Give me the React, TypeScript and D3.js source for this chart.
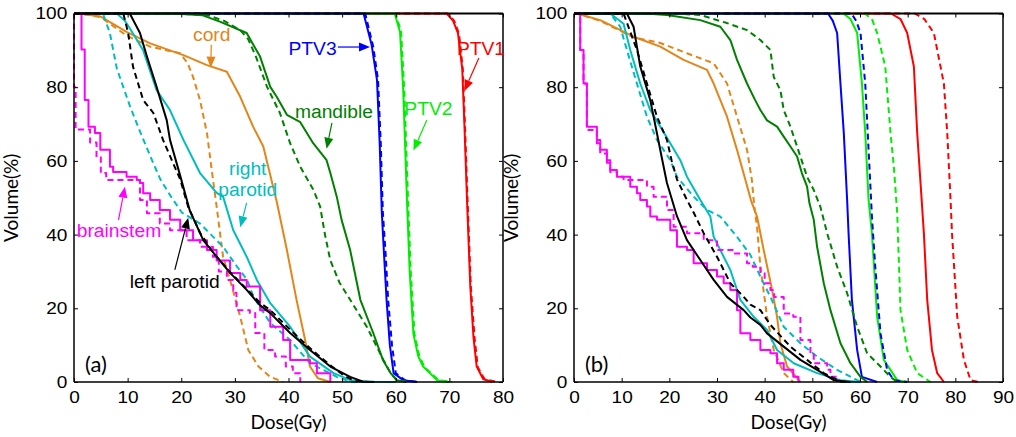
import { useEffect, useRef } from 'react';
import * as d3 from 'd3';

type Pt = [number, number];

const W = 1016;
const H = 437;
const TICK_FONT = '"Liberation Sans", Arial, sans-serif';
const LABEL_FONT = 'Lato, "Open Sans", sans-serif';

const C = {
  ptv1: '#ff0000',
  ptv2: '#00ee00',
  ptv3: '#0000ff',
  mandible: '#008000',
  cord: '#e2861a',
  rparotid: '#00bdbd',
  lparotid: '#000000',
  brainstem: '#ff00ff',
};

// ---------- panel (a) ----------
const aPtv1: Pt[] = [[0,100],[69.5,100],[70.7,98],[71.6,94.7],[72.4,85],[72.8,70],[73.3,49],[73.9,26],[74.5,12],[75.1,4.2],[76.3,0.8],[78,0]];
const aPtv1D: Pt[] = [[0,100],[69.7,100],[70.9,98],[71.8,94.5],[72.5,85],[72.9,70],[73.4,49],[74,26],[74.7,12],[75.3,4],[76.6,0.7],[79,0]];
const aPtv2: Pt[] = [[0,100],[59.8,100],[60.8,95],[61.4,79],[62.1,49],[62.6,30],[63.3,13],[64.2,7],[65.1,4.2],[67.7,0.5],[70,0]];
const aPtv2D: Pt[] = [[0,100],[60,100],[61,95],[61.6,79],[62.3,49],[62.8,30],[63.5,13],[64.4,7],[65.4,4],[68,0.5],[70.5,0]];
const aPtv3: Pt[] = [[0,100],[54,100],[55.5,91.5],[56.5,82],[57,65],[57.4,46],[57.8,35],[58.3,22],[58.9,10],[59.6,2.4],[61.4,0.5],[64,0]];
const aPtv3D: Pt[] = [[0,100],[54.3,100],[55.8,91],[56.7,82],[57.2,65],[57.6,46],[58.1,35],[58.6,22],[59.3,10],[60,2.4],[61.8,0.4],[64.5,0]];
const aMand: Pt[] = [[0,100],[18.5,100],[24,99.5],[27.2,97.8],[32.2,94.7],[34.7,88.3],[36.6,80.1],[37.8,77.4],[39.7,72.5],[42.2,70.5],[44.6,64.8],[47.1,60.2],[47.8,56.7],[49,50.3],[49.9,44],[51.5,35.8],[53.4,22.3],[55.8,13.3],[57.6,6],[59,2.5],[60.2,0.5],[62,0]];
const aMandD: Pt[] = [[0,100],[19,100],[25,99.5],[28,98],[31,95.5],[32.5,93],[34,88],[36,80.1],[38.4,73],[40.3,64.8],[42.2,58.4],[44.7,52],[45.9,47.6],[46.8,40],[47.8,33],[49.5,27],[51.5,22.3],[54.6,15],[57.7,6],[59,2.5],[60.2,0.5],[62.5,0]];
const aCord: Pt[] = [[0,100],[1.1,100],[4.9,99.2],[9.8,95],[14.2,91.9],[20.4,88.7],[24.8,86],[28.5,84.2],[31,77.4],[33.4,69.3],[35.3,63.9],[37.8,49],[39.7,35.8],[41.5,22.3],[43.1,11.4],[44,4.2],[45.5,1],[47.8,0]];
const aCordD: Pt[] = [[0,100],[1,100],[5,99],[9.8,94],[14.2,91],[19.8,89.2],[21.2,86.5],[22.2,82.8],[23.5,76.5],[24.8,67.5],[26,54],[26.6,47.6],[27.8,34],[29.1,27.7],[31,17.7],[32.5,8.7],[34.4,4.2],[36.5,1.5],[39,0]];
const aRPar: Pt[] = [[0,100],[8,100],[9.5,98],[10.4,96],[12.9,90],[15.4,79.2],[17.9,73.8],[20.4,65.7],[23.5,56.7],[26.6,51.3],[27.8,50.3],[29.7,41.2],[32.2,34],[34.1,27.7],[36.6,21.4],[40.3,15],[44,6.9],[48.4,2.4],[51.5,0.5],[56,0.1],[60,0]];
const aRParD: Pt[] = [[0,100],[5,100],[5.5,99.6],[6.7,94.6],[8,85],[9.2,80],[10.4,75],[12.3,68],[14.6,60],[16.1,55],[18,50.5],[20.1,46],[23.5,43],[27.8,36.7],[30.4,31.3],[32.3,27.7],[33.5,23],[36.6,16],[40.3,11.4],[44,5.1],[49,1.4],[51.5,0.1],[54,0]];
const aLPar: Pt[] = [[0,100],[10.4,100],[12.3,94.7],[13.6,88.3],[15.4,80.1],[17.3,71],[17.9,65.7],[19.8,56],[21.6,46.5],[24.1,38.5],[26.6,34],[29.1,29.6],[32.2,25],[34.7,20.8],[36.6,18.7],[40.3,13.3],[44,8.7],[47.8,4.2],[51.5,1.4],[53.9,0.1],[56,0]];
const aLParD: Pt[] = [[0,100],[9.2,100],[10.1,94.7],[11,85.6],[12.9,76.5],[14.8,73],[16.6,65.7],[18,61],[19.8,55],[21.3,47.5],[23.5,40.5],[26,35],[28.8,30.3],[32,25.5],[34.7,21.5],[36.6,19.5],[40.3,14.2],[44,9.2],[47.8,4.5],[50.5,1.6],[52.5,0.2],[55,0]];
const aBrain: Pt[] = [[0,100],[1,100],[1.4,90.2],[2,76.5],[2.7,69.3],[3.9,67.6],[4.9,63],[6.7,58.4],[7.3,57],[9.8,55.7],[11.7,54.8],[12.3,54],[12.9,51.2],[14.2,49.4],[16,46.7],[17.9,44],[19.8,41.2],[22.2,38.5],[24.8,35.8],[26.6,33],[29.1,29.6],[31,27.7],[32.2,25.9],[34.7,19.5],[36.6,15],[39,11.4],[40.3,6],[44,5.1],[45.3,2.4],[47.8,0]];
const aBrainD: Pt[] = [[0,100],[0,80],[0.3,68.5],[3,65],[4.2,61],[5,56.7],[6,54.8],[12.3,49.4],[13.6,45.8],[16,43],[17.9,41.2],[21,38.5],[23.5,36.7],[25.9,34],[27,30],[28.5,27.7],[29.7,24.2],[30.3,19.5],[32.8,18.7],[33.8,13.3],[35.5,8.7],[37.5,6.9],[39.5,4.2],[40.8,2.4],[42.2,0]];

// ---------- panel (b) ----------
const bPtv1: Pt[] = [[0,100],[66.5,100],[68.5,98.5],[69.9,94.7],[71.3,85.6],[72,67.6],[72.7,54],[73.4,40.4],[74.1,22.3],[75.1,8.7],[76.2,2.4],[77.6,0]];
const bPtv1D: Pt[] = [[0,100],[71.5,100],[73.5,98.5],[75.5,94.7],[77.6,81],[78.3,67.6],[79,49.4],[79.3,40.4],[80.4,17.7],[81.8,6],[83.2,0.5],[84.9,0]];
const bPtv2: Pt[] = [[0,100],[56.5,100],[58,98.5],[59.4,94.7],[60.4,81],[61.1,67.6],[61.8,49.4],[62.5,40.4],[63.6,17.7],[65,6],[67.8,0.5],[69.9,0]];
const bPtv2D: Pt[] = [[0,100],[61,100],[62.5,98.5],[63.6,94.7],[65.3,85.6],[66.4,67.6],[67.1,58.4],[67.8,46],[68.5,19.5],[69.9,8.7],[72,2.4],[74.8,0]];
const bPtv3: Pt[] = [[0,100],[53.3,100],[54.3,98],[55.2,94.7],[55.9,81],[56.6,67.6],[57.3,49.4],[57.6,40.4],[58.3,22.3],[59.4,8.7],[60.4,1.4],[63.6,0]];
const bPtv3D: Pt[] = [[0,100],[58.2,100],[59.2,98],[60.1,94.7],[61.1,81],[61.8,63],[62.5,44.9],[63.2,31.3],[64.3,13.2],[65.7,3.2],[67.1,0.5],[69.9,0]];
const bMand: Pt[] = [[0,100],[15,100],[19.5,99.6],[26.5,98.2],[30.7,96.4],[32.8,92.8],[34.2,87.4],[36.3,81],[38,76.5],[39.1,73.8],[40.5,71],[42.6,69.3],[44,66.6],[45.4,63.9],[46.8,61.2],[47.8,56.7],[48.9,53],[49.4,48.5],[50.3,44],[51,36.7],[52.4,26.8],[53.8,19.5],[55.9,10.5],[58,5.1],[60.1,1.4],[61.5,0]];
const bMandD: Pt[] = [[0,100],[20.9,100],[26.5,99.6],[32.1,97.4],[36.3,95.5],[39.1,92.8],[41.2,90.1],[41.9,82.8],[43.3,79.2],[44,73.8],[45.4,69.3],[46.8,63.9],[48.2,58.4],[48.9,55.7],[50.3,52.1],[51.7,47.5],[53.1,40.4],[55.2,31.3],[57.3,24.1],[59.4,15],[61.5,7.8],[63.6,5.1],[66.4,1.4],[67.8,0]];
const bCord: Pt[] = [[0,100],[0.6,100],[5.5,98.2],[12.5,93.7],[18.1,91],[23,87.4],[27.9,84.7],[29.3,81],[32.1,72],[34.2,63],[35.5,57],[37.2,49],[38.4,44.9],[39.8,35.8],[41.4,26],[42.6,17.7],[43.3,10.5],[44.7,4.2],[47.5,0]];
const bCordD: Pt[] = [[0,100],[0.6,100],[5.5,98],[12.5,93.5],[18.1,92],[23.7,89.2],[29.3,86.5],[32.1,81],[34.2,72],[36.3,63],[37.3,55],[37.8,48],[38.4,42],[39.1,31.3],[40.5,17.7],[41.9,8.7],[44,2.4],[46,0]];
const bRPar: Pt[] = [[0,100],[7.6,100],[10.4,97.2],[11.8,90.1],[13.9,81],[16,73.8],[18.1,69.3],[20.2,64.8],[22.3,60.2],[23.7,55.7],[26.5,49.4],[28.6,44.9],[29.3,39.4],[30.7,35.8],[32.8,30.4],[34.9,22.3],[37.7,17.7],[40.5,14.1],[42.6,8.7],[46.1,5.1],[51,2.4],[55.9,0.5],[60.1,0]];
const bRParD: Pt[] = [[0,100],[7.6,100],[9.7,96.4],[11.1,90.1],[13.2,81],[15.3,72],[17.4,65.7],[20.2,60.2],[21.6,55.7],[25.1,50.3],[27.9,46.7],[30.7,44.9],[34.2,39.4],[37,34.5],[39.1,28.6],[41.5,22.3],[44,15],[47.5,10.5],[51,6.9],[55.2,3.3],[59.4,0.5],[60.8,0]];
const bLPar: Pt[] = [[0,100],[11.1,100],[12.5,96.4],[13.9,85.6],[16,76.5],[17.4,67.5],[18.4,61],[19.5,54],[21.6,45],[23.7,38.5],[26.5,33.1],[29.3,27.7],[32.1,23.1],[35.6,19.5],[37,17.5],[39.1,15.5],[40.5,13.2],[44,9.6],[47.5,6],[51,3.3],[54.5,0.5],[58,0]];
const bLParD: Pt[] = [[0,100],[10.4,100],[13.2,90.1],[15.3,81],[17.4,72],[19.5,65.7],[20.5,60],[21.6,55],[23.7,49.4],[25.1,46],[27.2,40.4],[30,34],[32.8,26.8],[35.6,23.1],[37,21],[39.1,19.5],[41.2,15.5],[45.4,9.6],[48.9,6],[52.4,2.4],[55.9,0.1],[58,0]];
const bBrain: Pt[] = [[0,100],[0.6,100],[1.3,90.1],[2,81],[2.7,69.3],[4.8,65.7],[5.5,63],[6.9,60.2],[7.6,57.5],[9,55.7],[11.8,53],[13.2,51.2],[13.9,49.4],[15.3,47.6],[16,44.9],[17.4,44],[20.2,41.2],[21.6,36.7],[23.7,35.8],[25.1,32.2],[27.9,30.4],[30,28.6],[31.4,26.8],[32.8,25],[34.2,19.5],[34.9,13.2],[37,11.4],[39.1,8.7],[41.2,7.8],[42.6,5.1],[44,3.3],[46,1.4],[47.1,0]];
const bBrainD: Pt[] = [[0,100],[0.6,100],[1.3,90.1],[2,81],[2.7,68.4],[4.8,64.8],[5.5,62],[6.9,59.5],[7.6,57],[9,55.7],[10.4,54.8],[15.3,53],[16.7,50.3],[19.5,46.7],[20.9,42.1],[23.7,40.4],[27.2,38.5],[30,35.8],[33.5,34.9],[36.3,32.2],[37.5,31.3],[39.1,29.5],[40,26.8],[41.2,25],[42,23.1],[44,18.6],[46,17.7],[47.5,11.4],[49.6,7.8],[50.3,5.1],[53.1,3.3],[53.8,1.4],[55.2,0]];

const yTicks = [0, 20, 40, 60, 80, 100];
const xTicksA = [0, 10, 20, 30, 40, 50, 60, 70, 80];
const xTicksB = [0, 10, 20, 30, 40, 50, 60, 70, 80, 90];

type Series = { pts: Pt[]; color: string; dashed?: boolean; step?: boolean };

// draw order: targets first, organs at risk on top
const seriesA: Series[] = [
  { pts: aPtv1, color: C.ptv1 },
  { pts: aPtv1D, color: C.ptv1, dashed: true },
  { pts: aPtv2, color: C.ptv2 },
  { pts: aPtv2D, color: C.ptv2, dashed: true },
  { pts: aPtv3, color: C.ptv3 },
  { pts: aPtv3D, color: C.ptv3, dashed: true },
  { pts: aMand, color: C.mandible },
  { pts: aMandD, color: C.mandible, dashed: true },
  { pts: aCord, color: C.cord },
  { pts: aCordD, color: C.cord, dashed: true },
  { pts: aRPar, color: C.rparotid },
  { pts: aRParD, color: C.rparotid, dashed: true },
  { pts: aBrain, color: C.brainstem, step: true },
  { pts: aBrainD, color: C.brainstem, dashed: true, step: true },
  { pts: aLPar, color: C.lparotid },
  { pts: aLParD, color: C.lparotid, dashed: true },
];

const seriesB: Series[] = [
  { pts: bPtv1, color: C.ptv1 },
  { pts: bPtv1D, color: C.ptv1, dashed: true },
  { pts: bPtv2, color: C.ptv2 },
  { pts: bPtv2D, color: C.ptv2, dashed: true },
  { pts: bPtv3, color: C.ptv3 },
  { pts: bPtv3D, color: C.ptv3, dashed: true },
  { pts: bMand, color: C.mandible },
  { pts: bMandD, color: C.mandible, dashed: true },
  { pts: bCord, color: C.cord },
  { pts: bCordD, color: C.cord, dashed: true },
  { pts: bRPar, color: C.rparotid },
  { pts: bRParD, color: C.rparotid, dashed: true },
  { pts: bBrain, color: C.brainstem, step: true },
  { pts: bBrainD, color: C.brainstem, dashed: true, step: true },
  { pts: bLPar, color: C.lparotid },
  { pts: bLParD, color: C.lparotid, dashed: true },
];

// annotations for panel (a), in data units: text anchor point, arrow from -> to
type Note = { lines: string[]; at: Pt; color: string; anchor?: string; from: Pt; to: Pt };
const notesA: Note[] = [
  { lines: ['cord'], at: [22.2, 92.5], color: C.cord, from: [25.6, 91.5], to: [25.5, 85.3] },
  { lines: ['PTV3'], at: [40, 88.7], color: C.ptv3, from: [49.2, 90.9], to: [55.2, 90.9] },
  { lines: ['PTV1'], at: [71.4, 88.7], color: C.ptv1, from: [75.5, 87.9], to: [72.8, 79] },
  { lines: ['mandible'], at: [41.2, 71.6], color: C.mandible, from: [48.1, 70.3], to: [47.1, 63.3] },
  { lines: ['PTV2'], at: [61.6, 72.5], color: C.ptv2, from: [65.8, 71.1], to: [63.3, 62.8] },
  { lines: ['right', 'parotid'], at: [32.4, 56.2], color: C.rparotid, anchor: 'middle', from: [32.2, 48.6], to: [31, 42] },
  { lines: ['brainstem'], at: [0.5, 39.4], color: C.brainstem, from: [8.3, 44], to: [9.5, 53] },
  { lines: ['left parotid'], at: [10.4, 25.5], color: '#000', from: [18.8, 30.4], to: [21.3, 44.6] },
];

const yScale = d3.scaleLinear().domain([0, 100]).range([382, 13.5]);
const xScaleA = d3.scaleLinear().domain([0, 80]).range([74, 503]);
const xScaleB = d3.scaleLinear().domain([0, 90]).range([574, 1003]);

function Arrow({ x1, y1, x2, y2, color }: { x1: number; y1: number; x2: number; y2: number; color: string }) {
  const ang = Math.atan2(y2 - y1, x2 - x1);
  const len = 11;
  const hw = 4.5;
  const bx = x2 - len * Math.cos(ang);
  const by = y2 - len * Math.sin(ang);
  const px = -Math.sin(ang) * hw;
  const py = Math.cos(ang) * hw;
  return (
    <g>
      <line x1={x1} y1={y1} x2={bx} y2={by} stroke={color} strokeWidth={1.2} />
      <polygon points={`${x2},${y2} ${bx + px},${by + py} ${bx - px},${by - py}`} fill={color} />
    </g>
  );
}

function Panel({ x, series, xTicks, tag, notes }: { x: d3.ScaleLinear<number, number>; series: Series[]; xTicks: number[]; tag: string; notes?: Note[] }) {
  const bottomRef = useRef<SVGGElement>(null);
  const leftRef = useRef<SVGGElement>(null);
  const topRef = useRef<SVGGElement>(null);
  const rightRef = useRef<SVGGElement>(null);
  const [x0, x1] = x.range();
  const [y0, y1] = yScale.range();

  useEffect(() => {
    const tidy = (g: d3.Selection<SVGGElement, unknown, null, undefined>) => {
      g.select('.domain').remove();
      g.selectAll('line').attr('stroke', '#000').attr('stroke-width', 1);
      g.selectAll('text')
        .attr('font-family', TICK_FONT)
        .attr('font-size', 17)
        .attr('fill', '#000')
        .attr('transform', 'scale(1.12,1)');
    };
    d3.select(bottomRef.current!)
      .call(d3.axisBottom(x).tickValues(xTicks).tickSizeInner(-4).tickSizeOuter(0).tickPadding(9).tickFormat(d3.format('d')))
      .call(tidy);
    d3.select(leftRef.current!)
      .call(d3.axisLeft(yScale).tickValues(yTicks).tickSizeInner(-4).tickSizeOuter(0).tickPadding(6).tickFormat(d3.format('d')))
      .call(tidy);
    d3.select(topRef.current!)
      .call(d3.axisTop(x).tickValues(xTicks).tickSizeInner(-4).tickSizeOuter(0).tickFormat(() => ''))
      .call(tidy);
    d3.select(rightRef.current!)
      .call(d3.axisRight(yScale).tickValues(yTicks).tickSizeInner(-4).tickSizeOuter(0).tickFormat(() => ''))
      .call(tidy);
  }, [x, xTicks]);

  const line = d3.line<Pt>().x((d) => x(d[0])).y((d) => yScale(d[1]));
  const stepLine = d3.line<Pt>().x((d) => x(d[0])).y((d) => yScale(d[1])).curve(d3.curveStepAfter);

  return (
    <g>
      <rect x={x0} y={y1} width={x1 - x0} height={y0 - y1} fill="#fff" />
      {series.map((s, i) => (
        <path
          key={i}
          d={(s.step ? stepLine : line)(s.pts) ?? ''}
          fill="none"
          stroke={s.color}
          strokeWidth={2}
          strokeDasharray={s.dashed ? '6,4' : undefined}
          strokeLinejoin="round"
        />
      ))}
      <line x1={x0} y1={y1} x2={x1} y2={y1} stroke="#000" strokeWidth={2.2} />
      <line x1={x0} y1={y1} x2={x0} y2={y0} stroke="#000" strokeWidth={1.5} />
      <line x1={x0} y1={y0} x2={x1} y2={y0} stroke="#000" strokeWidth={1.5} />
      <line x1={x1} y1={y1} x2={x1} y2={y0} stroke="#000" strokeWidth={1.5} />
      <g ref={bottomRef} transform={`translate(0,${y0})`} />
      <g ref={leftRef} transform={`translate(${x0},0)`} />
      <g ref={topRef} transform={`translate(0,${y1})`} />
      <g ref={rightRef} transform={`translate(${x1},0)`} />
      <text x={(x0 + x1) / 2} y={429} textAnchor="middle" fontFamily={LABEL_FONT} fontSize={19}>Dose(Gy)</text>
      <text transform={`translate(${x0 - 56},${(y0 + y1) / 2}) rotate(-90)`} textAnchor="middle" fontFamily={LABEL_FONT} fontSize={19}>Volume(%)</text>
      <text x={x(0) + 11} y={yScale(2.7)} fontFamily={LABEL_FONT} fontSize={22}>{tag}</text>
      {notes?.map((n, i) => (
        <g key={i}>
          {n.lines.map((t, j) => (
            <text
              key={j}
              transform={`translate(${x(n.at[0])},${yScale(n.at[1]) + j * 21.5}) scale(1.07,1)`}
              textAnchor={n.anchor ?? 'start'}
              fontFamily={TICK_FONT}
              fontSize={18}
              fill={n.color}
            >
              {t}
            </text>
          ))}
          <Arrow x1={x(n.from[0])} y1={yScale(n.from[1])} x2={x(n.to[0])} y2={yScale(n.to[1])} color={n.color} />
        </g>
      ))}
    </g>
  );
}

export default function App() {
  return (
    <svg
      width={W}
      height={H}
      viewBox={`0 0 ${W} ${H}`}
      style={{ position: 'absolute', left: 0, top: 0, background: '#fff' }}
    >
      <Panel x={xScaleA} series={seriesA} xTicks={xTicksA} tag="(a)" notes={notesA} />
      <Panel x={xScaleB} series={seriesB} xTicks={xTicksB} tag="(b)" />
    </svg>
  );
}
